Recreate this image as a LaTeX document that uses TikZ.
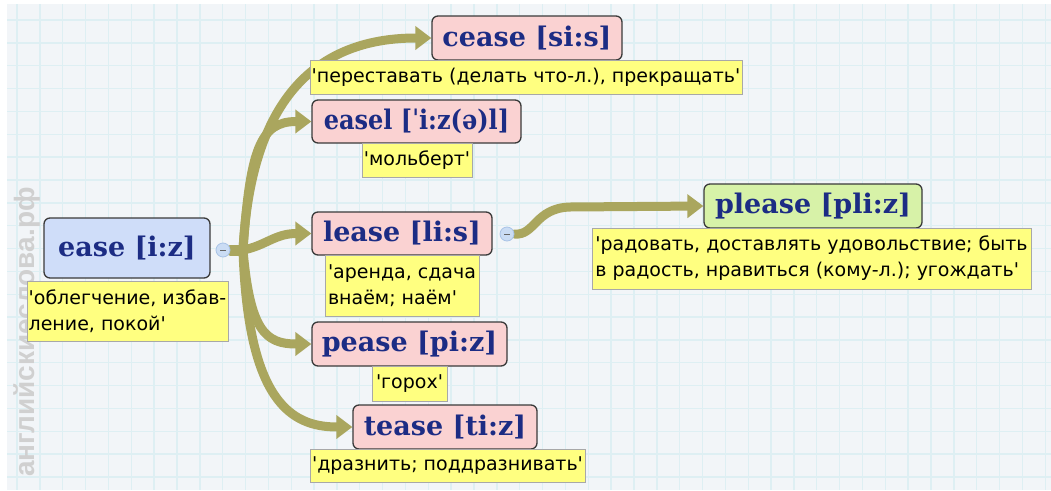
\documentclass[tikz,border=0pt]{standalone}
\usepackage{fontspec}
\usetikzlibrary{arrows.meta}
\newfontfamily\titlefont{DejaVu Serif}[Ligatures=TeXOff]
\newfontfamily\notefont{DejaVu Sans}[Ligatures=TeXOff]
\newfontfamily\wmfont{Liberation Sans}[Ligatures=TeXOff]
\definecolor{bgc}{HTML}{F2F5F8}
\definecolor{gridc}{HTML}{DEEFF3}
\definecolor{navy}{HTML}{1C2C84}
\definecolor{pinkc}{HTML}{FAD2D2}
\definecolor{bluec}{HTML}{CFDDF9}
\definecolor{greenc}{HTML}{D7F2A8}
\definecolor{notey}{HTML}{FFFF80}
\definecolor{notebd}{HTML}{A8A8A8}
\definecolor{olive}{HTML}{AAA65E}
\definecolor{boxbd}{HTML}{3A3A3A}
\definecolor{circf}{HTML}{CADCF4}
\definecolor{circd}{HTML}{A9C3E6}
\definecolor{wmc}{HTML}{D0D0D0}
\pgfdeclarelayer{bg}
\pgfdeclarelayer{conn}
\pgfsetlayers{bg,conn,main}
\begin{document}
\begin{tikzpicture}[x=1pt,y=-1pt,
  wordbox/.style={draw=boxbd, line width=1.3pt, rounded corners=6pt, inner sep=0pt,
    font=\titlefont\bfseries\fontsize{27}{30}\selectfont, text=navy},
  note/.style={draw=notebd, line width=0.8pt, fill=notey, inner sep=0pt,
    font=\notefont\fontsize{19}{26}\selectfont, align=left, text=black},
  boxdim/.style 2 args={minimum width=#1pt, minimum height=#2pt},
  collapse/.style={circle, draw=circd, fill=circf, line width=0.8pt, minimum size=14pt, inner sep=0pt},
  link/.style={draw=olive, line width=9pt, line cap=round},
  arr/.style={-{Triangle[length=16pt,width=23pt]}}
]
\useasboundingbox (0,0) rectangle (1051,490);
\begin{pgfonlayer}{bg}
\fill[white] (0,0) rectangle (1051,490);
\fill[bgc] (7,4) rectangle (1051,490);
\foreach \i in {0,...,45} \draw[gridc, line width=1.4pt] ({17+\i*22.85},4) -- ({17+\i*22.85},490);
\foreach \j in {0,...,20} \draw[gridc, line width=1.4pt] (7,{20+\j*22.85}) -- (1051,{20+\j*22.85});
\node[rotate=90, text=wmc, font=\wmfont\bfseries\fontsize{28}{30}\selectfont] (wm) at (27,332) {английскиеслова.рф};
\end{pgfonlayer}

% root
\node[wordbox, fill=bluec, boxdim={166}{60}] (root) at (127,248) {ease [i:z]};
\node[note, boxdim={201}{60}] (rootn) at (127.5,311) {'облегчение, избав-\\ление, покой'};
\node[collapse] (c1) at (223,250) {};
\draw[black!60, line width=0.8pt] ([xshift=-3pt]c1.center) -- ([xshift=3pt]c1.center);

% children
\node[wordbox, fill=pinkc, boxdim={190}{44}] (cease) at (527,38) {cease [si:s]};
\node[note, boxdim={432}{34}] (ceasen) at (526,77) {'переставать (делать что-л.), прекращать'};
\node[wordbox, fill=pinkc, boxdim={209}{43}] (easel) at (416.5,121.5) {\scalebox{0.89}[1]{easel [ˈi:z(ə)l]}};
\node[note, boxdim={110}{34}] (easeln) at (417,160) {'мольберт'};
\node[wordbox, fill=pinkc, boxdim={180}{43}] (lease) at (402,233.5) {lease [li:s]};
\node[note, boxdim={154}{61}] (leasen) at (402,285.5) {'аренда, сдача\\внаём; наём'};
\node[collapse] (c2) at (507,234) {};
\draw[black!60, line width=0.8pt] ([xshift=-3pt]c2.center) -- ([xshift=3pt]c2.center);
\node[wordbox, fill=pinkc, boxdim={195}{44}] (pease) at (409.5,344) {pease [pi:z]};
\node[note, boxdim={75}{35}] (peasen) at (409.5,383.5) {'горох'};
\node[wordbox, fill=pinkc, boxdim={184}{44}] (tease) at (445,427) {tease [ti:z]};
\node[note, boxdim={275}{33}] (teasen) at (447.5,465.5) {'дразнить; поддразнивать'};
\node[wordbox, fill=greenc, boxdim={218}{44}] (please) at (813,206) {please [pli:z]};
\node[note, boxdim={439}{61}] (pleasen) at (811.5,258.5) {'радовать, доставлять удовольствие; быть\\в радость, нравиться (кому-л.); угождать'};

\coordinate (J) at (243,250);
\coordinate (K) at (570,207);
\begin{pgfonlayer}{conn}
\draw[link, line width=11pt] (c1.east) -- (J);
\draw[link, arr] (J) .. controls (250,120) and (300,38) .. (cease.west);
\draw[link, arr] (J) .. controls (250,150) and (260,121.5) .. (easel.west);
\draw[link, arr] (J) .. controls (265,246) and (275,233.5) .. (lease.west);
\draw[link, arr] (J) .. controls (250,330) and (265,344) .. (pease.west);
\draw[link, arr] (J) .. controls (248,400) and (290,427) .. (tease.west);
\draw[link, arr] (c2.east) .. controls (535,236) and (535,208) .. (K) -- (please.west);
\end{pgfonlayer}
\end{tikzpicture}
\end{document}
